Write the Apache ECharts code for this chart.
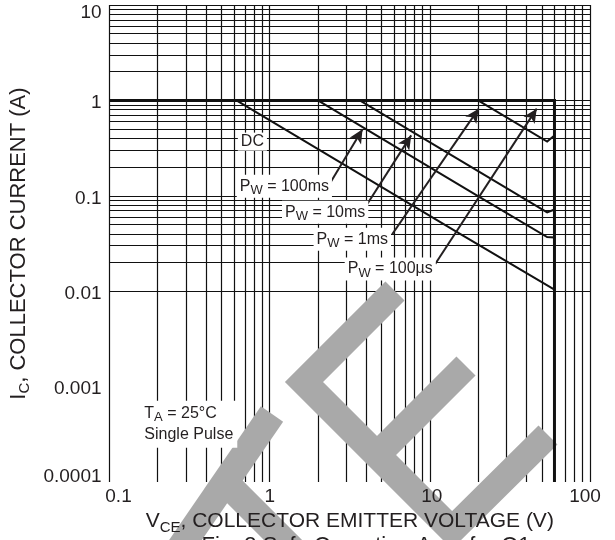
<!DOCTYPE html>
<html><head><meta charset="utf-8">
<script src="https://cdn.jsdelivr.net/npm/echarts@6/dist/echarts.min.js"></script>
<style>html,body{margin:0;padding:0;background:#fff}#c{width:615px;height:540px}</style>
</head><body><div id="c"></div>
<script>
const FONT = '"Liberation Sans", Arial, sans-serif';
const INK = '#231f20';

// ---- axis ticks ----
const xTickLabels = ['0.1', '1', '10', '100'];
const yTickLabels = ['0.0001', '0.001', '0.01', '0.1', '1', '10'];
const gridMultipliers = [1, 2, 3, 4, 5, 6, 7, 8, 9];
const xDecades = [0.1, 1, 10];
const xTop = 100;
const yDecades = [0.0001, 0.001, 0.01, 0.1, 1];
const yTop = 10;

// ---- curves [VCE (V), IC (A)] ----
const curveDC = [[0.62, 1], [14.8, 0.0416], [60, 0.0104]];
const curve100ms = [[2.0, 1], [20.6, 0.0965], [54, 0.037], [60, 0.0365]];
const curve10ms = [[3.65, 1], [54, 0.067], [60, 0.072]];
const curve1ms = [[20, 1], [54, 0.37], [60, 0.43]];
const curve100us = [[0.1, 1], [60, 1], [60, 0.0001]];

// ---- annotations (anchor in data units) ----
const labelTexts = ['DC', '{m|P}{s|W}{m| = 100ms}', '{m|P}{s|W}{m| = 10ms}', '{m|P}{s|W}{m| = 1ms}', '{m|P}{s|W}{m| = 100µs}'];
const labelAnchors = [[0.78, 0.37], [1.235, 0.1257], [2.22, 0.0673], [3.28, 0.0351], [5.66, 0.0171]];
const condText = '{m|T}{s|A}{m| = 25°C}\n{m|Single Pulse}';
const condAnchor = [0.158, 0.000405];

// ---- arrows [from, to] ----
const arrows = [
  [[2.36, 0.132], [3.80, 0.50]],
  [[4.06, 0.0815], [7.65, 0.43]],
  [[5.82, 0.0396], [20.2, 0.82]],
  [[10.8, 0.0193], [46.5, 0.82]]
];

const xGrid = xDecades.flatMap(d => gridMultipliers.map(m => +(d * m).toPrecision(3))).concat([xTop]);
const yGrid = yDecades.flatMap(d => gridMultipliers.map(m => +(d * m).toPrecision(3))).concat([yTop]);

const chart = echarts.init(document.getElementById('c'), null, {renderer: 'canvas'});

const labelRich = {
  m: {fontSize: 16, fontFamily: FONT, color: INK, lineHeight: 21},
  s: {fontSize: 13, fontFamily: FONT, color: INK, padding: [9, 0, 0, 0], lineHeight: 21}
};

function curveSeries(data, width) {
  return {
    type: 'line', data: data, symbol: 'none', z: 6, silent: true, animation: false,
    lineStyle: {color: '#111', width: width, join: 'miter'}
  };
}

const option = {
  animation: false,
  backgroundColor: '#fff',
  grid: {left: 109, right: 25, top: 5, bottom: 56, containLabel: false},
  xAxis: {
    type: 'log', logBase: 10, min: 0.1, max: 100, z: 10,
    axisLine: {show: false}, axisTick: {show: false}, splitLine: {show: false},
    axisLabel: {
      margin: 5, showMinLabel: true, showMaxLabel: true,
      formatter: function (v) {
        const i = Math.round(Math.log10(v)) + 1;
        const t = xTickLabels[i];
        if (i === 0) return '{a|' + t + '}';
        if (i === 3) return '{d|' + t + '}';
        if (i === 2) return '{c|' + t + '}';
        return '{b|' + t + '}';
      },
      rich: {
        a: {fontSize: 19, fontFamily: FONT, color: INK, padding: [0, 0, 0, 18]},
        b: {fontSize: 19, fontFamily: FONT, color: INK},
        c: {fontSize: 19, fontFamily: FONT, color: INK, padding: [0, 0, 0, 4]},
        d: {fontSize: 19, fontFamily: FONT, color: INK, padding: [0, 10, 0, 0]}
      }
    },
    name: '{m|V}{s|CE}{m|, COLLECTOR EMITTER VOLTAGE (V)}',
    nameLocation: 'middle', nameGap: 24,
    nameTextStyle: {
      rich: {
        m: {fontSize: 21, fontFamily: FONT, color: INK},
        s: {fontSize: 15, fontFamily: FONT, color: INK, padding: [12, 0, 0, 0]}
      }
    }
  },
  yAxis: {
    type: 'log', logBase: 10, min: 0.0001, max: 10, z: 10,
    axisLine: {show: false}, axisTick: {show: false}, splitLine: {show: false},
    axisLabel: {
      margin: 8, showMinLabel: true, showMaxLabel: true,
      formatter: function (v) {
        const i = Math.round(Math.log10(v)) + 4;
        const t = yTickLabels[i];
        if (i === 5) return '{t|' + t + '}';
        if (i === 0) return '{b|' + t + '}';
        return '{n|' + t + '}';
      },
      rich: {
        t: {fontSize: 19, fontFamily: FONT, color: INK, padding: [16, 0, 0, 0]},
        b: {fontSize: 19, fontFamily: FONT, color: INK, padding: [0, 0, 10, 0]},
        n: {fontSize: 19, fontFamily: FONT, color: INK, padding: [5, 0, 0, 0]}
      }
    },
    name: '{m|I}{s|C}{m|, COLLECTOR CURRENT (A)}',
    nameLocation: 'middle', nameGap: 56, nameRotate: 90,
    nameTextStyle: {
      rich: {
        m: {fontSize: 22, fontFamily: FONT, color: INK},
        s: {fontSize: 15, fontFamily: FONT, color: INK, padding: [12, 0, 0, 0]}
      }
    }
  },
  graphic: {
    elements: [
      {type: 'polyline', z: 3, silent: true, shape: {points: [[180, 548], [272, 414]]},
        style: {stroke: '#a9a9a9', lineWidth: 27, fill: null, lineCap: 'butt'}},
      {type: 'polyline', z: 3, silent: true, shape: {points: [[223, 480], [302, 559]]},
        style: {stroke: '#a9a9a9', lineWidth: 27, fill: null, lineCap: 'butt'}},
      {type: 'polyline', z: 3, silent: true, shape: {points: [[395, 291], [304, 382], [452, 530], [548, 435]]},
        style: {stroke: '#a9a9a9', lineWidth: 27, fill: null, lineCap: 'butt', lineJoin: 'miter'}},
      {type: 'polyline', z: 3, silent: true, shape: {points: [[466, 366], [377, 455]]},
        style: {stroke: '#a9a9a9', lineWidth: 27, fill: null, lineCap: 'butt'}},
      {type: 'text', z: 10, silent: true, x: 366, y: 535,
        style: {text: 'Fig. 3 Safe Operating Area for Q1', fontSize: 22, fontFamily: FONT, fill: INK, align: 'center', verticalAlign: 'top'}}
    ]
  },
  series: [
    {
      type: 'line', data: [], z: 1, silent: true,
      markLine: {
        silent: true, z: 1, symbol: 'none', animation: false,
        label: {show: false},
        lineStyle: {color: '#111', width: 1.2, type: 'solid'},
        emphasis: {disabled: true},
        data: xGrid.map(v => ({xAxis: v})).concat(yGrid.map(v => ({yAxis: v})))
      }
    },
    curveSeries(curve100us, 3),
    curveSeries(curveDC, 2),
    curveSeries(curve100ms, 2),
    curveSeries(curve10ms, 2),
    curveSeries(curve1ms, 2),
    {
      type: 'line', data: [], z: 7, silent: true,
      markLine: {
        silent: true, z: 7, animation: false,
        symbol: ['none', 'arrow'], symbolSize: [10, 14],
        label: {show: false},
        lineStyle: {color: INK, width: 2, type: 'solid'},
        emphasis: {disabled: true},
        data: arrows.map(a => [{coord: a[0]}, {coord: a[1]}])
      },
      markPoint: {
        silent: true, z: 8, animation: false,
        symbol: 'circle', symbolSize: 1,
        itemStyle: {color: 'rgba(0,0,0,0)'},
        label: {show: true, position: 'inside', backgroundColor: '#fff', padding: [1, 3, 1, 3],
          fontSize: 16, fontFamily: FONT, color: INK, rich: labelRich},
        data: labelAnchors.map((c, i) => ({coord: c, value: 0, label: {formatter: labelTexts[i]}}))
          .concat([{coord: condAnchor, value: 0,
            label: {formatter: condText, align: 'left', padding: [2, 4, 3, 3]}}])
      }
    }
  ]
};
chart.setOption(option);
</script>
</body></html>
